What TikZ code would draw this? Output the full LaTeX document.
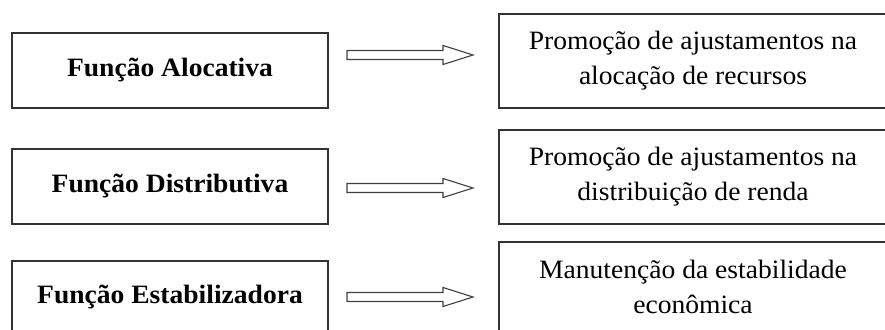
\documentclass[tikz,border=0pt]{standalone}
\usepackage{fontspec}
\setmainfont{Liberation Serif}[FakeStretch=1.04]
\begin{document}
\begin{tikzpicture}[x=1pt,y=1pt,
  boxline/.style={draw=black!80, line width=1.3pt},
  leftbox/.style={boxline, minimum width=316pt, inner sep=0pt,
     font=\fontsize{26.5}{30}\selectfont\bfseries},
  rightbox/.style={boxline, minimum width=388pt, inner sep=0pt,
     align=center, font=\fontsize{26.5}{35}\selectfont},
  blockarrow/.style={draw=black!75, line width=1.1pt, fill=white, line join=miter}]
\useasboundingbox (0,0) rectangle (885,329);
\clip (0,0) rectangle (885,329);
% left boxes
\node[leftbox, minimum height=75pt] (f1) at (170,258.5) {Função Alocativa};
\node[leftbox, minimum height=75pt] (f2) at (170,142.5) {Função Distributiva};
\node[leftbox, minimum height=72pt] (f3) at (170,32) {Função Estabilizadora};
% right boxes
\node[rightbox, minimum height=94pt] (r1) at (693,268) {Promoção de ajustamentos na\\alocação de recursos};
\node[rightbox, minimum height=94pt] (r2) at (693,152) {Promoção de ajustamentos na\\distribuição de renda};
\node[rightbox, minimum height=90pt] (r3) at (693,42) {Manutenção da estabilidade\\econômica};
% arrows
\coordinate (a1) at (347,274);
\coordinate (a2) at (347,141);
\coordinate (a3) at (347,32);
\foreach \a in {a1,a2,a3}{
  \draw[blockarrow] (\a) ++(0,-4.5) -- ++(96,0) -- ++(0,-5) -- ++(30,9.5)
     -- ++(-30,9.5) -- ++(0,-5) -- ++(-96,0) -- cycle;
}
\end{tikzpicture}
\end{document}
